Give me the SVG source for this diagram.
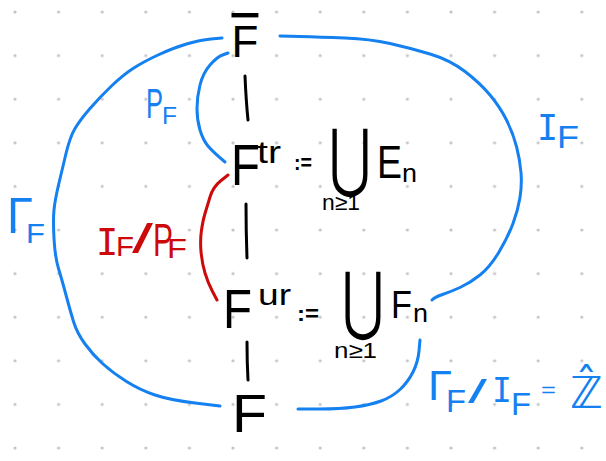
<svg xmlns="http://www.w3.org/2000/svg" width="606" height="461" viewBox="0 0 606 461">
<defs>
<pattern id="dots" x="-6.8" y="-9.8" width="43.6" height="43.6" patternUnits="userSpaceOnUse">
<circle cx="21.8" cy="21.8" r="1.6" fill="#c4c4c4"/>
</pattern>
<style>
text{font-family:"Liberation Sans","DejaVu Sans",sans-serif}
.k{fill:#000}
.b{fill:#1580f0}
.r{fill:#cc0a0a}
.m{font-family:"DejaVu Sans Mono","Liberation Mono",monospace}
.dj{font-family:"DejaVu Sans",sans-serif}
.c{fill:none;stroke-width:3;stroke-linecap:round;stroke-linejoin:round}
.cb{stroke:#1580f0}
.cr{stroke:#cc0a0a}
.ck{stroke:#000}
</style>
</defs>
<rect width="606" height="461" fill="#fff"/>
<rect width="606" height="461" fill="url(#dots)"/>

<g id="connectors">
<path class="c cb" d="M222,38 L211,39 Q200,40 186.5,44 Q173,48 158,55 Q143,62 133,68.5 Q123,75 111.5,86 Q100,97 90,108.5 Q80,120 75,128.5 Q70,137 66,153.5 Q62,170 58.5,185 Q55,200 54,210 Q53,220 54,238.5 Q55,257 58.5,268.5 Q62,280 66,295 Q70,310 73.5,321.5 Q77,333 85,344 Q93,355 103,364 Q113,373 126.5,381.5 Q140,390 155,395 Q170,400 195,403 L220,406"/>
<path class="c cb" d="M280,36 L300,36.5 Q320,37 345,38 Q370,39 390,43.5 Q410,48 430,54 Q450,60 465,71.5 Q480,83 490,95 Q500,107 506.5,120 Q513,133 516.5,146.5 Q520,160 521,172.5 Q522,185 520,197.5 Q518,210 513,223.5 Q508,237 499,252 Q490,267 480,275 Q470,283 460,287.5 Q450,292 442.5,294.5 Q435,297 432,300"/>
<path class="c cb" d="M228,53 L222.5,55 Q217,57 210,65 Q203,73 200,85 Q197,97 197,108.5 Q197,120 200,130 Q203,140 208,146 Q213,152 225,162"/>
<path class="c cr" d="M228,175 L220.5,181 Q213,187 210,197 Q207,207 205,213.5 Q203,220 201.5,230 Q200,240 201,251.5 Q202,263 205,273 Q208,283 212.5,291.5 L217,300"/>
<path class="c cb" d="M420,340 L419,351 Q418,362 413,372 Q408,382 400,389.5 Q392,397 381,401 Q370,405 355,407 Q340,409 319,409 L298,409"/>
<path class="c ck" d="M245,76 Q246,100 248,120"/>
<path class="c ck" d="M246,204 Q246,230 247,258"/>
<path class="c ck" d="M247,342 Q247,362 248,380"/>
</g>

<g id="node-Fbar">
<text class="k" x="231.5" y="57" font-size="44" style="text-decoration:overline">F</text>
</g>

<g id="node-Ftr">
<text class="k"><tspan x="231" y="185" font-size="58" textLength="29" lengthAdjust="spacingAndGlyphs">F</tspan><tspan x="257" y="163" font-size="32" textLength="24" lengthAdjust="spacingAndGlyphs">tr</tspan><tspan x="294" y="170" font-size="22" font-weight="bold" textLength="18" lengthAdjust="spacingAndGlyphs">:=</tspan><tspan class="dj" x="329" y="183" font-size="75" textLength="42" lengthAdjust="spacingAndGlyphs">⋃</tspan><tspan x="377" y="178" font-size="46" textLength="25" lengthAdjust="spacingAndGlyphs">E</tspan><tspan x="402" y="182" font-size="26" textLength="15" lengthAdjust="spacingAndGlyphs">n</tspan></text>
<text class="k" x="322" y="210" font-size="22" textLength="38" lengthAdjust="spacingAndGlyphs">n≥1</text>
</g>

<g id="node-Fur">
<text class="k"><tspan x="223" y="328" font-size="56" textLength="29" lengthAdjust="spacingAndGlyphs">F</tspan><tspan x="258" y="305" font-size="29" textLength="33" lengthAdjust="spacingAndGlyphs">ur</tspan><tspan x="297" y="321" font-size="22" font-weight="bold" textLength="22" lengthAdjust="spacingAndGlyphs">:=</tspan><tspan class="dj" x="342" y="326" font-size="75" textLength="42" lengthAdjust="spacingAndGlyphs">⋃</tspan><tspan x="391" y="318" font-size="39" textLength="21" lengthAdjust="spacingAndGlyphs">F</tspan><tspan x="413" y="322" font-size="26" textLength="15" lengthAdjust="spacingAndGlyphs">n</tspan></text>
<text class="k" x="334" y="358" font-size="22" textLength="43" lengthAdjust="spacingAndGlyphs">n≥1</text>
</g>

<g id="node-F">
<text class="k" x="232" y="432" font-size="54" textLength="35" lengthAdjust="spacingAndGlyphs">F</text>
</g>

<g id="labels">
<text class="b"><tspan x="146" y="118" font-size="42" textLength="17" lengthAdjust="spacingAndGlyphs">P</tspan><tspan x="162" y="124" font-size="24" textLength="15" lengthAdjust="spacingAndGlyphs">F</tspan></text>
<text class="b"><tspan class="m" x="537" y="140" font-size="35">I</tspan><tspan x="557" y="148" font-size="32" textLength="22" lengthAdjust="spacingAndGlyphs">F</tspan></text>
<text class="b"><tspan x="7" y="233" font-size="50" textLength="26" lengthAdjust="spacingAndGlyphs">Γ</tspan><tspan x="26" y="243" font-size="27" textLength="19" lengthAdjust="spacingAndGlyphs">F</tspan></text>
<text class="r"><tspan class="m" x="96" y="255" font-size="37">I</tspan><tspan x="116" y="256" font-size="28" textLength="18" lengthAdjust="spacingAndGlyphs">F</tspan><tspan x="132" y="253" font-size="40" textLength="21" lengthAdjust="spacingAndGlyphs">/</tspan><tspan x="153" y="256" font-size="46" textLength="20" lengthAdjust="spacingAndGlyphs">P</tspan><tspan x="167" y="258" font-size="28" textLength="20" lengthAdjust="spacingAndGlyphs">F</tspan></text>
<text class="b"><tspan x="428" y="400" font-size="42" textLength="24" lengthAdjust="spacingAndGlyphs">Γ</tspan><tspan x="446" y="412" font-size="32" textLength="20" lengthAdjust="spacingAndGlyphs">F</tspan><tspan x="468" y="403" font-size="34" textLength="19" lengthAdjust="spacingAndGlyphs">/</tspan><tspan class="m" x="492" y="402" font-size="33">I</tspan><tspan x="511" y="415" font-size="32" textLength="20" lengthAdjust="spacingAndGlyphs">F</tspan><tspan x="541" y="397" font-size="20" textLength="15" lengthAdjust="spacingAndGlyphs">=</tspan><tspan class="dj" x="570" y="408" font-size="44">ℤ&#x302;</tspan></text>
</g>
</svg>
